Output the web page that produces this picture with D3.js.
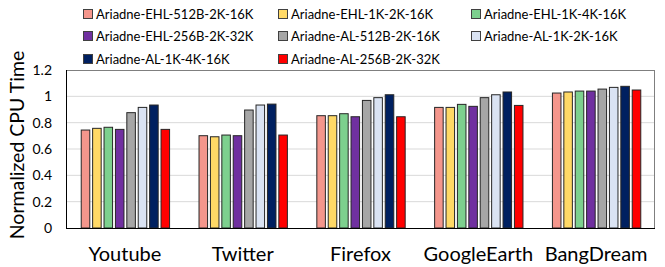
<!DOCTYPE html>
<html><head><meta charset="utf-8">
<script src="https://cdn.jsdelivr.net/npm/d3@7"></script>
<style>body{margin:0;background:#fff}svg{display:block}</style>
</head><body>
<svg id="c" width="665" height="267"></svg>
<script>
const categories = ["Youtube","Twitter","Firefox","GoogleEarth","BangDream"];
const seriesNames = ["Ariadne-EHL-512B-2K-16K","Ariadne-EHL-1K-2K-16K","Ariadne-EHL-1K-4K-16K","Ariadne-EHL-256B-2K-32K","Ariadne-AL-512B-2K-16K","Ariadne-AL-1K-2K-16K","Ariadne-AL-1K-4K-16K","Ariadne-AL-256B-2K-32K"];
const seriesColors = ["#F4968C","#FFD966","#7DD08E","#7030A0","#A6A6A6","#DAE3F3","#002060","#FF0000"];
const ehl512 = [0.744,0.701,0.853,0.916,1.025];
const ehl1k2k = [0.757,0.693,0.853,0.916,1.033];
const ehl1k4k = [0.765,0.706,0.868,0.939,1.040];
const ehl256 = [0.749,0.701,0.845,0.924,1.040];
const al512 = [0.876,0.896,0.969,0.990,1.055];
const al1k2k = [0.916,0.934,0.990,1.012,1.068];
const al1k4k = [0.934,0.941,1.012,1.033,1.076];
const al256 = [0.749,0.706,0.845,0.931,1.048];
const seriesValues = [ehl512,ehl1k2k,ehl1k4k,ehl256,al512,al1k2k,al1k4k,al256];
const yTicks = [0,0.2,0.4,0.6,0.8,1,1.2];
const yTickLabels = ["0","0.2","0.4","0.6","0.8","1","1.2"];

const font = "Lato, 'Open Sans', sans-serif";
const svg = d3.select("#c");
const L=66, R=655, T=70, B=228;
const x0 = d3.scaleBand().domain(categories).range([L,R]).paddingInner(0.25).paddingOuter(0.125);
const x1 = d3.scaleBand().domain(d3.range(seriesNames.length)).range([0,x0.bandwidth()]).paddingInner(0.25).paddingOuter(0);
const y = d3.scaleLinear().domain([0,1.2]).range([B,T]);

// gridlines
svg.append("g").selectAll("line").data(yTicks.slice(1,-1)).join("line")
  .attr("x1",L).attr("x2",R).attr("y1",d=>y(d)).attr("y2",d=>y(d))
  .attr("stroke","#D9D9D9").attr("stroke-width",1);

// plot border
svg.append("rect").attr("x",L+0.5).attr("y",T+0.5).attr("width",R-L-1).attr("height",B-T)
  .attr("fill","none").attr("stroke","#7F7F7F");

// bars
const groups = svg.append("g").selectAll("g").data(categories).join("g")
  .attr("transform",d=>`translate(${x0(d)},0)`);
groups.selectAll("rect").data((c,ci)=>seriesValues.map((s,si)=>({si,v:s[ci]}))).join("rect")
  .attr("x",d=>x1(d.si)+0.5).attr("width",x1.bandwidth())
  .attr("y",d=>y(d.v)).attr("height",d=>y(0)-y(d.v))
  .attr("fill",d=>seriesColors[d.si]).attr("stroke","#262626").attr("stroke-width",1);

// axes lines
svg.append("line").attr("x1",L).attr("x2",R).attr("y1",B+0.5).attr("y2",B+0.5).attr("stroke","#000");
svg.append("line").attr("x1",L+0.5).attr("x2",L+0.5).attr("y1",T).attr("y2",B).attr("stroke","#000");

// y axis labels
const yAxis = d3.axisLeft(y).tickValues(yTicks).tickFormat((d,i)=>yTickLabels[i]).tickSize(0).tickPadding(14);
const ya = svg.append("g").attr("transform",`translate(${L},0)`).call(yAxis);
ya.select(".domain").remove();
ya.selectAll("text").attr("font-family",font).attr("font-size",14).attr("fill","#000");

// x axis labels
const xAxis = d3.axisBottom(x0).tickSize(0).tickPadding(19);
const xa = svg.append("g").attr("transform",`translate(0,${B})`).call(xAxis);
xa.select(".domain").remove();
xa.selectAll("text").attr("font-family",font).attr("font-size",20).attr("fill","#000");

// y title
svg.append("text").attr("transform","translate(24,145) rotate(-90)").attr("text-anchor","middle")
  .attr("font-family",font).attr("font-size",19.5).attr("fill","#000").text("Normalized CPU Time");

// legend
const colX = [83,278,471];
const rowY = [14,36,59];
const lg = svg.append("g").selectAll("g").data(seriesNames).join("g")
  .attr("transform",(d,i)=>`translate(${colX[i%3]},${rowY[Math.floor(i/3)]})`);
lg.append("rect").attr("x",0.5).attr("y",-4.5).attr("width",9).attr("height",9)
  .attr("fill",(d,i)=>seriesColors[i]).attr("stroke","#404040").attr("stroke-width",1);
lg.append("text").attr("x",13).attr("y",0).attr("dy","0.35em")
  .attr("font-family",font).attr("font-size",13).attr("fill","#000").text(d=>d);
</script>
</body></html>
